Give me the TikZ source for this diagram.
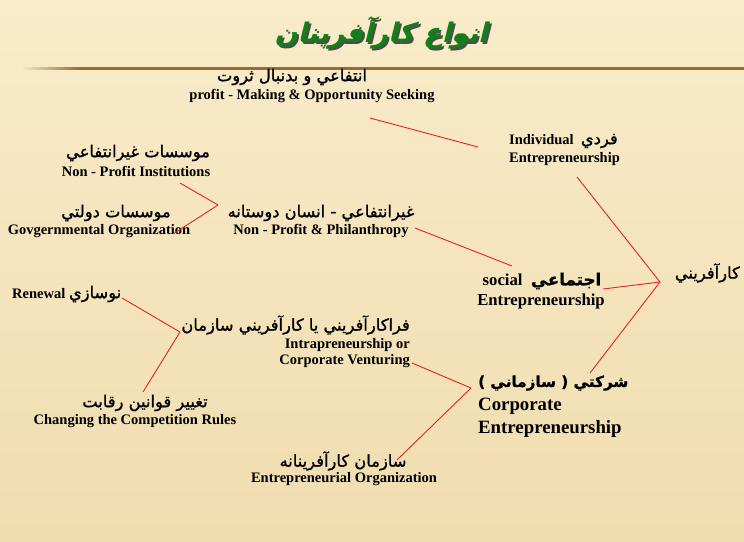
\documentclass[tikz,border=0pt]{standalone}
\usepackage{fontspec}
\setmainfont{Liberation Serif}
\newfontfamily\farsi[Script=Arabic,FakeBold=1]{DejaVu Sans}
\newfontfamily\titlefa[Script=Arabic,BoldFeatures={FakeSlant=0.25}]{DejaVu Sans}
\TeXXeTstate=1
\usepackage{xcolor}
\usetikzlibrary{positioning}
\definecolor{paper}{RGB}{249,236,202}
\definecolor{paperdark}{RGB}{240,220,175}
\definecolor{rulebrown}{RGB}{150,108,50}
\definecolor{linered}{RGB}{228,36,36}
\definecolor{titlegreen}{RGB}{18,128,24}
\newcommand{\fa}[1]{{\farsi\mdseries\fontsize{16.3}{18}\selectfont\beginR #1\endR}}
\newcommand{\faB}[1]{{\farsi\bfseries\beginR #1\endR}}
\begin{document}
\begin{tikzpicture}[x=1pt, y=-1pt, inner sep=0pt, conn/.style={draw=linered, line width=0.9pt}]
\useasboundingbox (0,0) rectangle (744,541);
\shade[top color=paper, bottom color=paperdark] (0,0) rectangle (744,541);
\shade[left color=paper, right color=rulebrown] (20,67) rectangle (80,69.5);
\fill[rulebrown] (80,67) rectangle (744,69.5);
% title
\node[text=black!70] (titleshadow) at (383,35) {\titlefa\bfseries\fontsize{27}{30}\selectfont\beginR انواع كارآفرينان\endR};
\node[text=titlegreen] (title) at (381,33) {\titlefa\bfseries\fontsize{27}{30}\selectfont\beginR انواع كارآفرينان\endR};
\tikzstyle{every node}=[font=\fontsize{14.5}{16}\selectfont\bfseries]
% labels
\node (profitFa) at (292,77) {\fa{انتفاعي و بدنبال ثروت}};
\node (profitEn) at (312,96) {profit - Making \& Opportunity Seeking};
\node[anchor=west] (indiv) at (509,141) {Individual\ \ \fa{فردي}};
\node[anchor=west] (indivEn) at (509,159) {Entrepreneurship};
\node (npInstFa) at (138,153) {\fa{موسسات غيرانتفاعي}};
\node (npInstEn) at (136,171) {Non - Profit Institutions};
\node (govFa) at (116,213) {\fa{موسسات دولتي}};
\node (govEn) at (99,231) {Govgernmental Organization};
\node (npFa) at (321,213) {\fa{غيرانتفاعي - انسان دوستانه}};
\node (npEn) at (321,231) {Non - Profit \& Philanthropy};
\node[font=\fontsize{16.7}{18}\selectfont\bfseries] (social) at (542,281) {social\ \ \faB{اجتماعي}};
\node[font=\fontsize{16.7}{18}\selectfont\bfseries] (socialEn) at (541,301) {Entrepreneurship};
\node[anchor=east] (kar) at (740,273) {\fa{كارآفريني}};
\node[anchor=west] (renewal) at (12,294) {Renewal \fa{نوسازي}};
\node[anchor=east] (intraFa) at (410,325) {\fa{فراكارآفريني يا كارآفريني سازمان}};
\node[anchor=east] (intraEn) at (410,345) {Intrapreneurship or};
\node[anchor=east] (ventEn) at (410,361) {Corporate Venturing};
\node[anchor=west, font=\fontsize{15.2}{17}\selectfont\bfseries] (corpFa) at (478,383) {\faB{شركتي ( سازماني )}};
\node[anchor=west, font=\fontsize{18.8}{20}\selectfont\bfseries] (corpEn) at (478,406) {Corporate};
\node[anchor=west, font=\fontsize{18.8}{20}\selectfont\bfseries] (corpEn2) at (478,429) {Entrepreneurship};
\node (rulesFa) at (145,403) {\fa{تغيير قوانين رقابت}};
\node (rulesEn) at (135,421) {Changing the Competition Rules};
\node (orgFa) at (343,461) {\fa{سازمان كارآفرينانه}};
\node (orgEn) at (344,479) {Entrepreneurial Organization};
% junctions and line ends
\coordinate (hub) at (660,282);
\coordinate (npJoin) at (218,205);
\coordinate (intraJoin) at (180,332);
\coordinate (corpJoin) at (471,388);
\coordinate (profitEnd) at (370,118);
\coordinate (indivIn) at (478,147);
\coordinate (indivOut) at (577,177);
\coordinate (socialOut) at (603,289);
\coordinate (corpOut) at (590,373);
\coordinate (npOut) at (415,228);
\coordinate (socialIn) at (512,266);
\coordinate (npInstEnd) at (180,183);
\coordinate (govEnd) at (173,234);
\coordinate (renewalEnd) at (122,298);
\coordinate (rulesEnd) at (143,392);
\coordinate (ventEnd) at (412,363);
\coordinate (orgEnd) at (397,460);
\path[conn]
(profitEnd) edge (indivIn)
(indivOut) edge (hub)
(socialOut) edge (hub)
(corpOut) edge (hub)

(npOut) edge (socialIn)
(npInstEnd) edge (npJoin)
(npJoin) edge (govEnd)

(renewalEnd) edge (intraJoin)
(intraJoin) edge (rulesEnd)

(ventEnd) edge (corpJoin)
(corpJoin) edge (orgEnd);
\end{tikzpicture}
\end{document}
